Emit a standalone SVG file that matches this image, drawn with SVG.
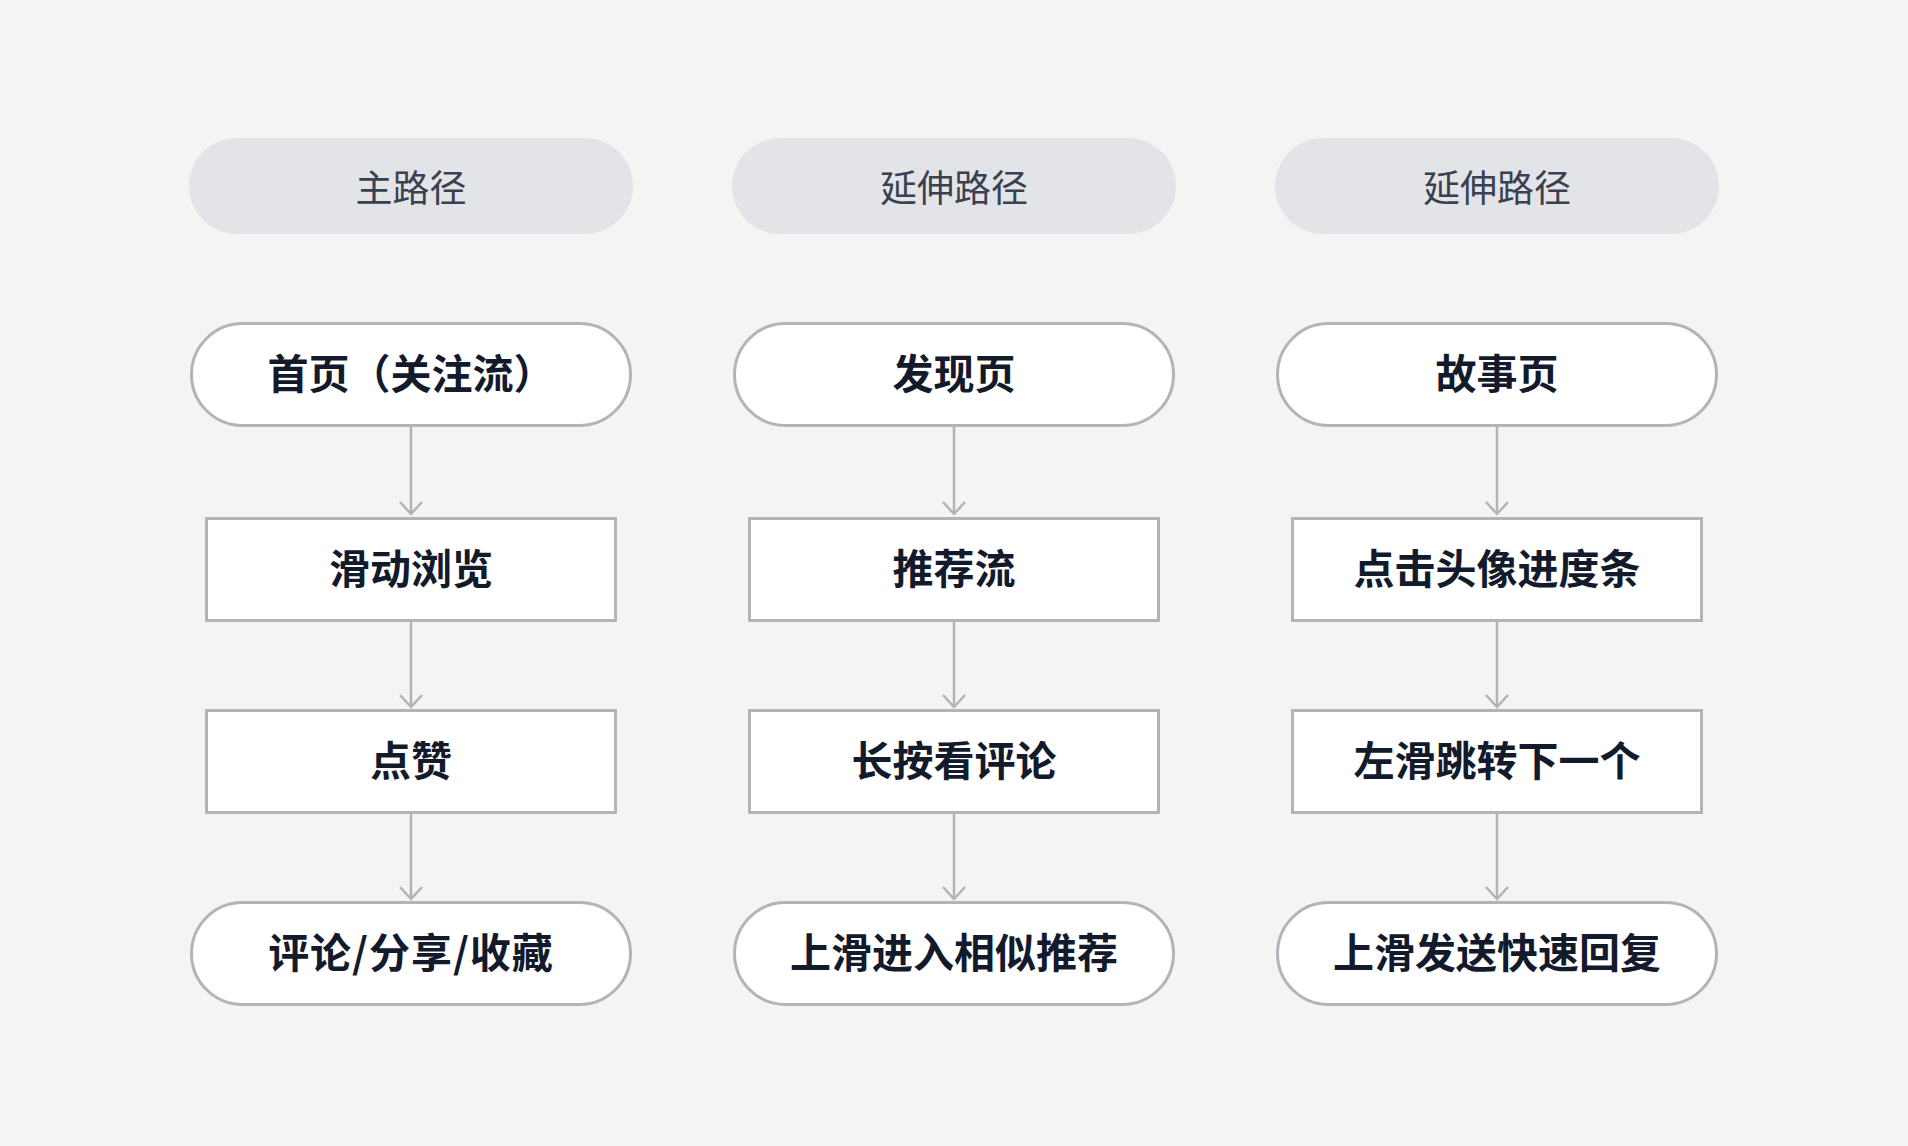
<svg xmlns="http://www.w3.org/2000/svg" width="1908" height="1146" viewBox="0 0 1908 1146">
<style>
.bg{fill:#f4f4f5}
.hdr{fill:#e3e4e8}
.hdr-t{font-family:"Noto Sans CJK SC","Noto Sans",sans-serif;font-size:37px;font-weight:400;fill:#394150}
.node{fill:#ffffff;stroke:#b3b3b8;stroke-width:3}
.node-t{font-family:"Noto Sans CJK SC","Noto Sans",sans-serif;font-size:41px;font-weight:700;fill:#121a2c;text-spacing-trim:space-all}
.edge{fill:none;stroke:#b3b3b8;stroke-width:2.5}
</style>
<defs>
<marker id="arrow" viewBox="-15 -14 17 28" refX="0" refY="0" markerWidth="17" markerHeight="28" markerUnits="userSpaceOnUse" orient="auto">
<path d="M-12,-11 L0,0 L-12,11" fill="none" stroke="#b3b3b8" stroke-width="2.5"/>
</marker>
</defs>
<rect class="bg" x="0" y="0" width="1908" height="1146"/>

<g id="headers">
<g id="h1"><rect class="hdr" x="189" y="138" width="444" height="96" rx="48"/><text class="hdr-t" x="411" y="186" text-anchor="middle" dominant-baseline="central">主路径</text></g>
<g id="h2"><rect class="hdr" x="732" y="138" width="444" height="96" rx="48"/><text class="hdr-t" x="954" y="186" text-anchor="middle" dominant-baseline="central">延伸路径</text></g>
<g id="h3"><rect class="hdr" x="1275" y="138" width="444" height="96" rx="48"/><text class="hdr-t" x="1497" y="186" text-anchor="middle" dominant-baseline="central">延伸路径</text></g>
</g>

<g id="connectors">
<path class="edge" d="M411,427 V514" marker-end="url(#arrow)"/>
<path class="edge" d="M411,622 V707" marker-end="url(#arrow)"/>
<path class="edge" d="M411,814 V899" marker-end="url(#arrow)"/>
<path class="edge" d="M954,427 V514" marker-end="url(#arrow)"/>
<path class="edge" d="M954,622 V707" marker-end="url(#arrow)"/>
<path class="edge" d="M954,814 V899" marker-end="url(#arrow)"/>
<path class="edge" d="M1497,427 V514" marker-end="url(#arrow)"/>
<path class="edge" d="M1497,622 V707" marker-end="url(#arrow)"/>
<path class="edge" d="M1497,814 V899" marker-end="url(#arrow)"/>
</g>

<g id="col1">
<g id="n1a"><rect class="node" x="191.5" y="323.5" width="439" height="102" rx="51"/><text class="node-t" x="411" y="371" text-anchor="middle" dominant-baseline="central">首页（关注流）</text></g>
<g id="n1b"><rect class="node" x="206.5" y="518.5" width="409" height="102"/><text class="node-t" x="411" y="566" text-anchor="middle" dominant-baseline="central">滑动浏览</text></g>
<g id="n1c"><rect class="node" x="206.5" y="710.5" width="409" height="102"/><text class="node-t" x="411" y="758" text-anchor="middle" dominant-baseline="central">点赞</text></g>
<g id="n1d"><rect class="node" x="191.5" y="902.5" width="439" height="102" rx="51"/><text class="node-t" x="411" y="950" text-anchor="middle" dominant-baseline="central" letter-spacing="1">评论/分享/收藏</text></g>
</g>

<g id="col2">
<g id="n2a"><rect class="node" x="734.5" y="323.5" width="439" height="102" rx="51"/><text class="node-t" x="954" y="371" text-anchor="middle" dominant-baseline="central">发现页</text></g>
<g id="n2b"><rect class="node" x="749.5" y="518.5" width="409" height="102"/><text class="node-t" x="954" y="566" text-anchor="middle" dominant-baseline="central">推荐流</text></g>
<g id="n2c"><rect class="node" x="749.5" y="710.5" width="409" height="102"/><text class="node-t" x="954" y="758" text-anchor="middle" dominant-baseline="central">长按看评论</text></g>
<g id="n2d"><rect class="node" x="734.5" y="902.5" width="439" height="102" rx="51"/><text class="node-t" x="954" y="950" text-anchor="middle" dominant-baseline="central">上滑进入相似推荐</text></g>
</g>

<g id="col3">
<g id="n3a"><rect class="node" x="1277.5" y="323.5" width="439" height="102" rx="51"/><text class="node-t" x="1497" y="371" text-anchor="middle" dominant-baseline="central">故事页</text></g>
<g id="n3b"><rect class="node" x="1292.5" y="518.5" width="409" height="102"/><text class="node-t" x="1497" y="566" text-anchor="middle" dominant-baseline="central">点击头像进度条</text></g>
<g id="n3c"><rect class="node" x="1292.5" y="710.5" width="409" height="102"/><text class="node-t" x="1497" y="758" text-anchor="middle" dominant-baseline="central">左滑跳转下一个</text></g>
<g id="n3d"><rect class="node" x="1277.5" y="902.5" width="439" height="102" rx="51"/><text class="node-t" x="1497" y="950" text-anchor="middle" dominant-baseline="central">上滑发送快速回复</text></g>
</g>
</svg>
